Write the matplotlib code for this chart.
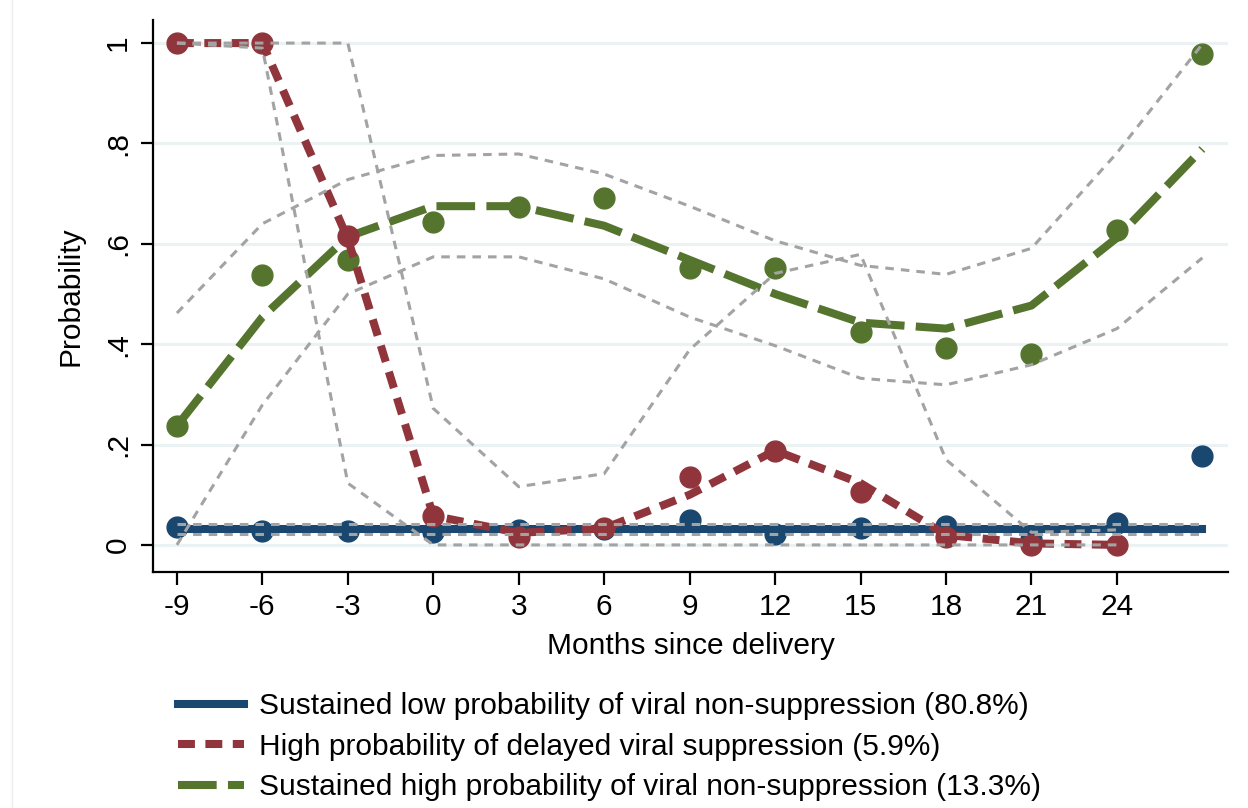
import matplotlib
matplotlib.use("Agg")
import matplotlib.pyplot as plt
from matplotlib.lines import Line2D

plt.rcParams["font.family"] = ["Liberation Sans", "DejaVu Sans"]

# Months since delivery
months = [-9, -6, -3, 0, 3, 6, 9, 12, 15, 18, 21, 24, 27]
months_red = [-9, -6, -3, 0, 3, 6, 9, 12, 15, 18, 21, 24]

# Group 1: sustained low probability of viral non-suppression
low_obs = [0.036, 0.028, 0.028, 0.025, 0.029, 0.032, 0.050, 0.021, 0.034, 0.038, 0.012, 0.044, 0.177]
low_fit = [0.031, 0.031, 0.031, 0.031, 0.031, 0.031, 0.031, 0.031, 0.031, 0.031, 0.031, 0.031, 0.031]
low_hi = [0.041, 0.041, 0.041, 0.041, 0.041, 0.041, 0.041, 0.041, 0.041, 0.041, 0.041, 0.041, 0.041]
low_lo = [0.021, 0.021, 0.021, 0.021, 0.021, 0.021, 0.021, 0.021, 0.021, 0.021, 0.021, 0.021, 0.021]

# Group 2: high probability of delayed viral suppression
del_obs = [1.0, 1.0, 0.615, 0.058, 0.016, 0.034, 0.135, 0.188, 0.106, 0.015, 0.0, 0.0]
del_fit = [1.0, 1.0, 0.61, 0.058, 0.024, 0.033, 0.100, 0.188, 0.123, 0.020, 0.003, 0.0]
del_hi = [1.0, 1.0, 1.0, 0.272, 0.116, 0.142, 0.389, 0.541, 0.579, 0.170, 0.025, 0.030]
del_lo = [1.0, 0.99, 0.123, 0.0, 0.0, 0.0, 0.0, 0.0, 0.0, 0.0, 0.0, 0.0]

# Group 3: sustained high probability of viral non-suppression
high_obs = [0.237, 0.538, 0.568, 0.643, 0.673, 0.692, 0.551, 0.551, 0.425, 0.393, 0.380, 0.627, 0.979]
high_fit = [0.237, 0.454, 0.614, 0.675, 0.675, 0.636, 0.568, 0.500, 0.443, 0.431, 0.477, 0.612, 0.789]
high_hi = [0.462, 0.640, 0.728, 0.776, 0.779, 0.739, 0.675, 0.606, 0.557, 0.539, 0.591, 0.781, 0.998]
high_lo = [0.0, 0.279, 0.500, 0.574, 0.574, 0.530, 0.454, 0.397, 0.332, 0.319, 0.359, 0.431, 0.572]

xticks = [-9, -6, -3, 0, 3, 6, 9, 12, 15, 18, 21, 24]
yticks = [0, 0.2, 0.4, 0.6, 0.8, 1.0]
ytick_labels = ["0", ".2", ".4", ".6", ".8", "1"]

labels = [
    "Sustained low probability of viral non-suppression (80.8%)",
    "High probability of delayed viral suppression (5.9%)",
    "Sustained high probability of viral non-suppression (13.3%)",
]

navy = "#1a476f"
maroon = "#90353b"
green = "#55752f"
ci_gray = "#a3a3a3"
grid_col = "#eaf2f3"

FS = 21.5
LW = 5.8
MS = 15

fig = plt.figure(figsize=(12.48, 8.08), dpi=100)
ax = fig.add_axes([153 / 1248, 1 - 572 / 808, (1228 - 153) / 1248, (572 - 20) / 808])

green_style = (0, (4.8, 1.4))
red_style = (0, (2.1, 1.3))
ci_style = (0, (2.8, 2.3))

# fitted trajectories and observed proportions
ax.plot(months, high_fit, color=green, lw=LW, linestyle=green_style, zorder=3)
ax.plot(months, high_obs, "o", color=green, ms=MS, zorder=3)
ax.plot(months, low_fit, color=navy, lw=LW, zorder=4)
ax.plot(months, low_obs, "o", color=navy, ms=MS, zorder=4)
ax.plot(months_red, del_fit, color=maroon, lw=LW, linestyle=red_style, zorder=5)
ax.plot(months_red, del_obs, "o", color=maroon, ms=MS, zorder=5)

# confidence bands
for xs, ys in [(months, low_hi), (months, low_lo),
               (months_red, del_hi), (months_red, del_lo),
               (months, high_hi), (months, high_lo)]:
    ax.plot(xs, ys, color=ci_gray, lw=2.2, linestyle=ci_style, zorder=6)

ax.set_xlim(-9.84, 27.9)
ax.set_ylim(-0.054, 1.046)
ax.set_xticks(xticks)
ax.set_xticklabels([str(t) for t in xticks])
ax.set_yticks(yticks)
ax.set_yticklabels(ytick_labels, rotation=90, va="center")

for y in yticks:
    ax.axhline(y, color=grid_col, lw=2.2, zorder=0)

for s in ["top", "right"]:
    ax.spines[s].set_visible(False)
for s in ["left", "bottom"]:
    ax.spines[s].set_linewidth(1.6)
ax.tick_params(axis="both", direction="out", length=9, width=1.6,
               labelsize=FS, pad=6)

ax.set_xlabel("Months since delivery", fontsize=FS, labelpad=8)
ax.set_ylabel("Probability", fontsize=FS, labelpad=14)

handles = [
    Line2D([], [], color=navy, lw=LW),
    Line2D([], [], color=maroon, lw=LW, linestyle=red_style),
    Line2D([], [], color=green, lw=LW, linestyle=green_style),
]
fig.legend(handles, labels, loc="upper left",
           bbox_to_anchor=(178 / 1248, 1 - 692 / 808),
           frameon=False, fontsize=FS, handlelength=2.2, handletextpad=0.5,
           labelspacing=0.42, borderpad=0, borderaxespad=0)

# thin page edge on the left
fig.add_artist(Line2D([12 / 1248, 12 / 1248], [0, 1], color="#ececec", lw=1))

fig.savefig("out.png", dpi=100)
